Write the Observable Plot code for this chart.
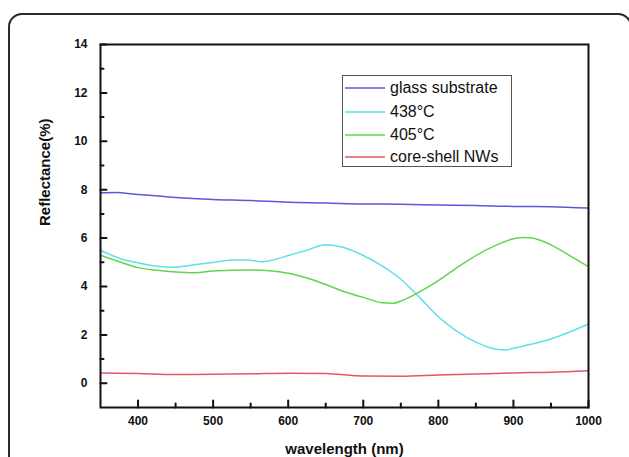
<!DOCTYPE html>
<html>
<head>
<meta charset="utf-8">
<script src="https://cdn.jsdelivr.net/npm/d3@7"></script>
<script src="https://cdn.jsdelivr.net/npm/@observablehq/plot@0.6"></script>
<style>
  html, body { margin: 0; padding: 0; background: #fff; overflow: hidden; }
  body { width: 629px; height: 457px; position: relative; font-family: "Liberation Sans", Arial, sans-serif; }
  #card { position: absolute; left: 8px; top: 13px; width: 624px; height: 470px; border: 2px solid #2a2a2a; border-radius: 14px; box-sizing: border-box; }
  #chart { position: absolute; left: 0; top: 0; }
  #legend { position: absolute; left: 342px; top: 75px; width: 170px; height: 92px; border: 1.5px solid #555; box-sizing: border-box; background: #fff; }
  .row { position: absolute; left: 2px; height: 20px; display: flex; align-items: center; font-size: 16px; color: #111; white-space: nowrap; }
  .row svg { margin-right: 5px; }
</style>
</head>
<body>
<div id="card"></div>
<div id="chart"></div>
<div id="legend"></div>
<script>
// Series names and colours
const seriesNames = ["glass substrate", "438°C", "405°C", "core-shell NWs"];
const seriesColors = ["#5858dc", "#5ee0e8", "#62d450", "#e65468"];

// glass substrate
const glassX = [350, 370, 400, 450, 500, 550, 600, 650, 700, 750, 800, 850, 900, 950, 1000];
const glassY = [7.86, 7.88, 7.80, 7.68, 7.60, 7.55, 7.48, 7.45, 7.41, 7.40, 7.37, 7.35, 7.31, 7.30, 7.24];

// 438°C
const c438X = [350, 375, 400, 425, 450, 475, 500, 525, 545, 565, 580, 600, 625, 650, 675, 700, 725, 750, 775, 800, 825, 850, 875, 890, 900, 925, 950, 975, 1000];
const c438Y = [5.50, 5.17, 4.98, 4.84, 4.80, 4.90, 4.99, 5.09, 5.10, 5.02, 5.10, 5.28, 5.50, 5.73, 5.60, 5.28, 4.85, 4.30, 3.55, 2.75, 2.15, 1.70, 1.42, 1.38, 1.45, 1.62, 1.83, 2.12, 2.45];

// 405°C
const c405X = [350, 375, 400, 425, 450, 475, 500, 525, 550, 575, 600, 625, 650, 675, 700, 725, 740, 750, 775, 800, 825, 850, 875, 900, 915, 925, 950, 975, 1000];
const c405Y = [5.29, 5.02, 4.78, 4.67, 4.60, 4.57, 4.64, 4.67, 4.68, 4.65, 4.55, 4.35, 4.08, 3.78, 3.55, 3.33, 3.31, 3.40, 3.78, 4.24, 4.78, 5.28, 5.68, 5.97, 6.02, 6.00, 5.72, 5.28, 4.82];

// core-shell NWs
const nwX = [350, 400, 450, 500, 550, 600, 650, 700, 750, 800, 850, 900, 950, 1000];
const nwY = [0.43, 0.40, 0.36, 0.37, 0.39, 0.42, 0.40, 0.30, 0.29, 0.34, 0.38, 0.43, 0.46, 0.52];

// Axis ticks
const xMajor = [400, 500, 600, 700, 800, 900, 1000];
const xMinor = [450, 550, 650, 750, 850, 950];
const yMajor = [0, 2, 4, 6, 8, 10, 12, 14];
const yMinor = [1, 3, 5, 7, 9, 11, 13];

const xs = [glassX, c438X, c405X, nwX];
const ys = [glassY, c438Y, c405Y, nwY];
const rows = [];
seriesNames.forEach((name, i) => {
  xs[i].forEach((x, j) => rows.push({series: name, wl: x, r: ys[i][j]}));
});

const fmt = d => String(d);
const xDomain = [350, 1000];
const yDomain = [-1, 14];
const tickShape = {draw(context, l) { context.moveTo(0, 0); context.lineTo(0, -l); }};
const tickStyle = {shape: tickShape, anchor: "start", stroke: "#111", strokeWidth: 2};

const plot = Plot.plot({
  width: 629,
  height: 457,
  marginLeft: 100,
  marginRight: 41,
  marginTop: 44,
  marginBottom: 50,
  style: {fontFamily: "'Liberation Sans', Arial, sans-serif", background: "transparent"},
  x: {domain: xDomain},
  y: {domain: yDomain},
  color: {domain: seriesNames, range: seriesColors},
  marks: [
    Plot.line(rows, {x: "wl", y: "r", z: "series", stroke: "series", strokeWidth: 1.5, curve: "monotone-x"}),
    Plot.frame({stroke: "#111", strokeWidth: 2}),
    // inward ticks on the x axis
    Plot.vector(xMajor, {x: d => d, y: yDomain[0], length: 7, rotate: 0, ...tickStyle}),
    Plot.vector(xMinor, {x: d => d, y: yDomain[0], length: 4, rotate: 0, ...tickStyle}),
    // inward ticks on the y axis
    Plot.vector(yMajor, {y: d => d, x: xDomain[0], length: 6, rotate: 90, ...tickStyle}),
    Plot.vector(yMinor, {y: d => d, x: xDomain[0], length: 3, rotate: 90, ...tickStyle}),
    Plot.axisX(xMajor, {tickSize: 0, tickPadding: 9, tickFormat: fmt, fontSize: 12, fontWeight: "bold", fill: "#111", label: null}),
    Plot.axisY(yMajor, {tickSize: 0, tickPadding: 13, tickFormat: fmt, fontSize: 12, fontWeight: "bold", fill: "#111", label: null}),
    Plot.text(["wavelength (nm)"], {frameAnchor: "bottom", dy: 46, fontSize: 15, fontWeight: "bold", fill: "#111"}),
    Plot.text(["Reflectance(%)"], {frameAnchor: "left", dx: -55, rotate: -90, fontSize: 15, fontWeight: "bold", fill: "#111"})
  ]
});
document.getElementById("chart").appendChild(plot);

const legend = document.getElementById("legend");
const rowTops = [2, 26, 49, 71];
seriesNames.forEach((name, i) => {
  const r = document.createElement("div");
  r.className = "row";
  r.style.top = rowTops[i] + "px";
  r.innerHTML = `<svg width="40" height="4"><line x1="0" y1="2" x2="40" y2="2" stroke="${seriesColors[i]}" stroke-width="1.5"/></svg><span>${name}</span>`;
  legend.appendChild(r);
});
</script>
</body>
</html>
